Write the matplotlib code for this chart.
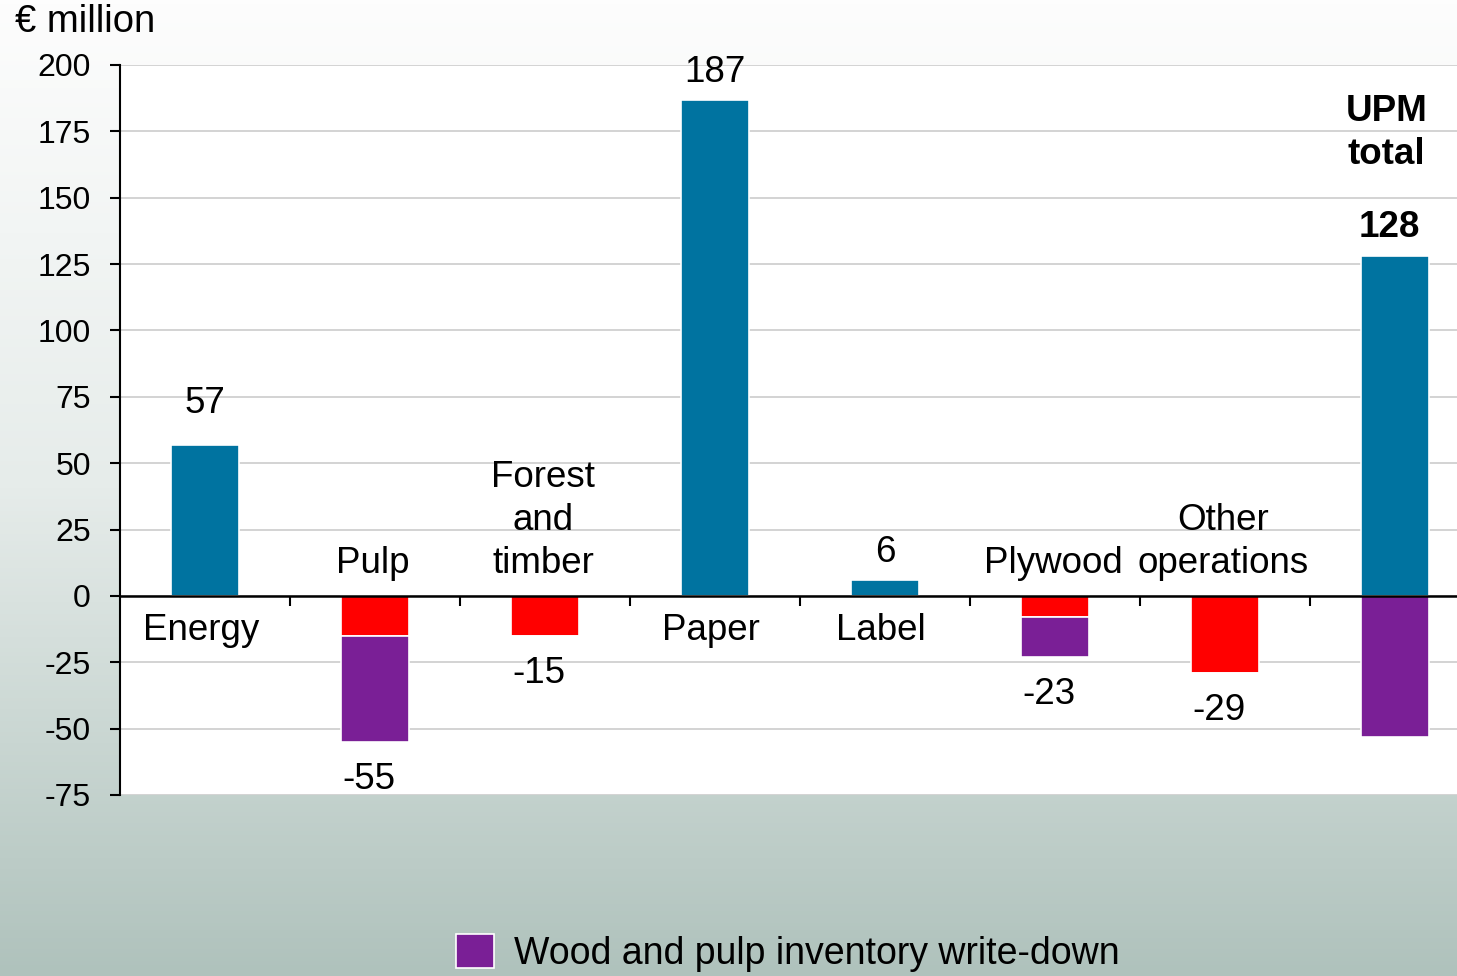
import numpy as np
import matplotlib
matplotlib.use("Agg")
import matplotlib.pyplot as plt
from matplotlib.patches import Patch
from matplotlib.colors import LinearSegmentedColormap

plt.rcParams['font.family'] = ['Liberation Sans', 'DejaVu Sans']

# segment result, EUR million
categories = ['Energy', 'Pulp', 'Forest\nand\ntimber', 'Paper', 'Label',
              'Plywood', 'Other\noperations', 'UPM\ntotal']
operating = [57, -15, -15, 187, 6, -8, -29, 128]
writedown = [0, -40, 0, 0, 0, -15, 0, -53]
value_labels = [57, -55, -15, 187, 6, -23, -29, 128]
yticks = [200, 175, 150, 125, 100, 75, 50, 25, 0, -25, -50, -75]

BLUE = '#0073a0'
RED = '#ff0000'
PURPLE = '#7a1f96'

W, H = 1457, 976
fig = plt.figure(figsize=(W / 100, H / 100), dpi=100)

# background gradient, light at top to grey-green at bottom
bg = fig.add_axes([0, 0, 1, 1], zorder=-10)
cmap = LinearSegmentedColormap.from_list('bg', ['#fdfdfd', '#e6ecea', '#afc2bc'])
grad = np.linspace(0, 1, 256).reshape(-1, 1)
bg.imshow(grad, aspect='auto', cmap=cmap, extent=[0, 1, 0, 1], origin='upper')
bg.axis('off')

# plot area in pixels: x 120..1457, y 65..795
left, right, top, bottom = 120, W, 65, 795
ax = fig.add_axes([left / W, 1 - bottom / H, (right - left) / W, (bottom - top) / H])
ax.set_facecolor('white')

x = np.arange(len(categories))
bw = 0.4
colors = [BLUE if v > 0 else RED for v in operating]
ax.bar(x, operating, width=bw, color=colors, edgecolor='white', linewidth=1.2, zorder=2)
wd_bottom = [min(v, 0) for v in operating]
ax.bar(x, writedown, bottom=wd_bottom, width=bw, color=PURPLE,
       edgecolor='white', linewidth=1.2, zorder=2)

ax.set_ylim(-75, 200)
ax.set_xlim(-0.5, -0.5 + (right - left) / 170)
ax.set_yticks(yticks)
ax.set_yticklabels([str(t) for t in yticks], fontsize=23)
ax.yaxis.grid(True, color='#cccccc', linewidth=1.2)
ax.set_axisbelow(True)

ax.spines['top'].set_visible(False)
ax.spines['right'].set_visible(False)
ax.spines['left'].set_linewidth(1.5)
ax.spines['bottom'].set_position(('data', 0))
ax.spines['bottom'].set_linewidth(1.8)
ax.spines['bottom'].set_zorder(3)
ax.set_xticks(x[:-1] + 0.5)
ax.set_xticklabels([])
ax.tick_params(axis='y', length=7, width=1.5, pad=14, direction='out')
ax.tick_params(axis='x', length=7, width=1.5, direction='out')

px = 72 / 100  # points per pixel
fs = 26.5

# value labels
value_pad = [24, 20, 20, 10, 10, 20, 20, 11]
last = len(categories) - 1
for i, v in enumerate(value_labels):
    end = operating[i] if i == last else operating[i] + writedown[i]
    if end > 0:
        ax.annotate(str(v), (i, end), xytext=((-6 if i == last else 0) * px, value_pad[i] * px),
                    textcoords='offset points', ha='center', va='bottom', fontsize=fs,
                    fontweight='bold' if i == last else 'normal')
    else:
        ax.annotate(str(v), (i, end), xytext=(-6 * px, -value_pad[i] * px), textcoords='offset points',
                    ha='center', va='top', fontsize=fs)

# category names beside the zero line
for i, name in enumerate(categories[:-1]):
    if operating[i] > 0:
        ax.annotate(name, (i, 0), xytext=(-4 * px, -17 * px), textcoords='offset points',
                    ha='center', va='top', fontsize=fs)
    else:
        ax.annotate(name, (i, 0), xytext=(-2 * px, 15 * px), textcoords='offset points',
                    ha='center', va='bottom', fontsize=fs, linespacing=1.3)

ax.text(x[-1] - 0.05, 189, categories[-1], ha='center', va='top', fontsize=fs,
        fontweight='bold', linespacing=1.3)

fig.text(15 / W, 1 - 22 / H, '€ million', ha='left', va='center', fontsize=27.5)

handle = Patch(facecolor=PURPLE, edgecolor='white', linewidth=1.2)
fig.legend([handle], ['Wood and pulp inventory write-down'], loc='center',
           bbox_to_anchor=(788 / W, 1 - 953 / H), frameon=False, fontsize=27,
           handlelength=1.0, handleheight=1.0, handletextpad=0.55)

fig.savefig('out.png', dpi=100)
